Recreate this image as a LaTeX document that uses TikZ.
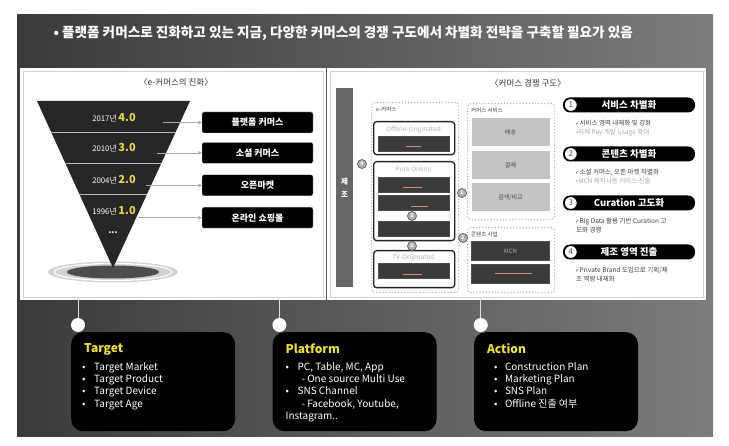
\documentclass[tikz,border=0pt]{standalone}
\usepackage{fontspec}
\setmainfont{Noto Sans CJK KR}
\newfontfamily\symfont{DejaVu Sans}
\usetikzlibrary{positioning,arrows.meta,calc}
\definecolor{bgdark}{HTML}{3A3A3A}
\definecolor{bglight}{HTML}{7C7C7C}
\definecolor{panelline}{HTML}{D0D0D0}
\definecolor{fundark}{HTML}{262626}
\definecolor{verYellow}{HTML}{E6D64A}
\definecolor{headYellow}{HTML}{F0E030}
\definecolor{barDark}{HTML}{3A3A3A}
\definecolor{barLight}{HTML}{C4C4C4}
\definecolor{redline}{HTML}{D98A78}
\newcommand{\fsz}[1]{\fontsize{#1}{#1}\selectfont}
\newcommand{\chk}{{\symfont\fsz{5.5}✓}}

\begin{document}
\begin{tikzpicture}[x=1pt, y=-1pt,
    evobox/.style={fill=black, draw=gray!50, rounded corners=2pt, text=white,
                   font=\bfseries\fsz{9}, minimum width=111pt, minimum height=21pt, inner sep=0pt},
    yrtxt/.style={text=white, font=\fsz{7.8}},
    evoarr/.style={-{Triangle[length=3.5pt,width=3.5pt]}, draw=gray!65, line width=0.6pt},
    grp/.style={draw=gray!60, dotted, line width=1.1pt, rounded corners=3pt, anchor=north west, inner sep=0pt},
    grplbl/.style={font=\fsz{5.5}, text=black!75, anchor=west, inner sep=1pt},
    chanbox/.style={draw=black!85, line width=1.3pt, rounded corners=3pt, fill=white,
                    anchor=north west, minimum width=81pt, inner sep=0pt},
    chanlbl/.style={font=\fsz{6.5}, text=gray!60},
    darkbar/.style={fill=barDark, draw=black!70, line width=0.5pt, minimum width=71pt, minimum height=15pt, inner sep=0pt},
    lightbar/.style={fill=barLight, minimum width=78pt, minimum height=28pt, inner sep=0pt,
                     text=gray!55!black, font=\fsz{6}},
    numdot/.style={circle, fill=gray!60, draw=black!60, line width=0.8pt, text=white,
                   font=\bfseries\fsz{5}, minimum size=9pt, inner sep=0pt},
    pill/.style={fill=black, rounded corners=7pt, minimum width=132pt, minimum height=15pt,
                 inner sep=0pt, text=white, font=\bfseries\fsz{9.5}},
    pillnum/.style={circle, fill=white, draw=black, line width=1pt, minimum size=13pt,
                    inner sep=0pt, font=\fsz{8}, text=gray!60!black},
    bodytxt/.style={font=\fontsize{6.5}{9}\selectfont, text=black!75, inner sep=0pt, align=left},
    card/.style={fill=black, rounded corners=12pt, minimum width=164pt, minimum height=99pt, inner sep=0pt},
    cardhead/.style={anchor=west, text=headYellow, font=\bfseries\fsz{12}, inner sep=0pt},
    cardlist/.style={anchor=north west, text=white, font=\fontsize{10}{12.3}\selectfont, align=left, inner sep=0pt},
    pin/.style={circle, fill=white, minimum size=14pt, inner sep=0pt},
    pinline/.style={draw=gray!25, line width=0.8pt}
  ]
  \useasboundingbox (0,0) rectangle (729,446);
  \fill[white] (0,0) rectangle (729,446);
  \shade[left color=bgdark, right color=bglight] (17,15) rectangle (713,437);

  % headline
  \node[anchor=west, text=white, font=\bfseries\fsz{13.6}] (title) at (50,33)
    {• 플랫폼 커머스로 진화하고 있는 지금, 다양한 커머스의 경쟁 구도에서 차별화 전략을 구축할 필요가 있음};

  % white panels
  \fill[white] (20,68) rectangle (326,300);
  \draw[panelline, line width=0.7pt] (23,71) rectangle (323,297);
  \fill[white] (327,68) rectangle (706,300);
  \draw[panelline, line width=0.7pt] (330,71) rectangle (703,297);

  % left panel: e-commerce evolution
  \node[font=\fsz{8.5}, text=black!80] (ltitle) at (176,82) {〈e-커머스의 진화〉};
  \fill[gray!35] (113,272) ellipse [x radius=65, y radius=10.5];
  \draw[white, line width=1.2pt] (113,272) ellipse [x radius=59, y radius=8.5];
  \fill[black!70] (113,272) ellipse [x radius=46, y radius=6.5];
  \coordinate (ftl) at (37,101);
  \coordinate (ftr) at (190,101);
  \coordinate (fap) at (113,268);
  \fill[fundark] (ftl) -- (ftr) -- (fap) -- cycle;
  \begin{scope}
    \clip (ftl) -- (ftr) -- (fap) -- cycle;
    \foreach \yy in {132,163,194}
      \draw[gray!55, line width=0.8pt] (30,\yy) -- (200,\yy);
  \end{scope}
  \foreach \yy/\yr/\vv [count=\i] in {118/2017/4.0, 148/2010/3.0, 180/2004/2.0, 211/1996/1.0}
    \node[yrtxt] (row\i) at (114,\yy) {\yr 년 \textcolor{verYellow}{\bfseries\fsz{11}\vv}};
  \node[yrtxt, font=\bfseries\fsz{9}] (rowdots) at (113,233) {...};

  \node[evobox] (ev1) at (257.5,122.5) {플랫폼 커머스};
  \node[evobox, below=9pt of ev1] (ev2) {소셜 커머스};
  \node[evobox, below=11pt of ev2] (ev3) {오픈마켓};
  \node[evobox, below=11pt of ev3] (ev4) {온라인 쇼핑몰};
  \foreach \xx [count=\i] in {163,157,146,138} {
    \coordinate (st\i) at (\xx,0);
    \draw[evoarr] (st\i |- ev\i.west) -- (ev\i.west);
  }

  % right panel: competition structure
  \node[font=\fsz{8.5}, text=black!80] (rtitle) at (528,83) {〈커머스 경쟁 구도〉};
  \node[fill=gray!50!black!80, minimum width=17pt, minimum height=199pt, inner sep=0pt,
        text=white, font=\bfseries\fontsize{7.5}{13}\selectfont, align=center] (make) at (344.5,187.5) {제\\조};

  % e-commerce channels
  \node[grp, minimum width=87pt, minimum height=190pt] (ecom) at (371,102) {};
  \node[grplbl] (ecomlbl) at (375,109) {e-커머스};
  \node[chanbox, minimum height=33pt] (off) at (373,121) {};
  \node[chanlbl] (offlbl) at (413.5,130) {Offline-Originated};
  \node[darkbar] (offbar) at (413.5,143.5) {};
  \node[chanbox, minimum height=79pt] (pure) at (373,161) {};
  \node[chanlbl] (purelbl) at (413.5,169) {Pure Online};
  \node[darkbar] (pbar1) at (413.5,184.5) {};
  \node[darkbar] (pbar2) at (413.5,203) {};
  \node[darkbar] (pbar3) at (413.5,228.5) {};
  \node[chanbox, minimum height=37pt] (tv) at (373,250) {};
  \node[chanlbl] (tvlbl) at (413.5,257.5) {TV-Originated};
  \node[darkbar] (tvbar) at (413.5,271) {};
  \foreach \xa/\xb/\yy in {406/421/147, 403/422/188, 411/428/207, 403/422/275}
    \draw[redline, line width=1pt] (\xa,\yy) -- (\xb,\yy);

  % commerce services
  \node[grp, minimum width=87pt, minimum height=116pt] (serv) at (467,103) {};
  \node[grplbl] (servlbl) at (470,110) {커머스 서비스};
  \node[lightbar] (ship) at (510.5,132.5) {배송};
  \node[lightbar, below=4pt of ship] (pay) {결제};
  \node[lightbar, below=4pt of pay] (search) {검색/비교};

  % content business
  \node[grp, minimum width=87pt, minimum height=65pt] (cont) at (467,227) {};
  \node[grplbl] (contlbl) at (470,234) {콘텐츠 사업};
  \node[darkbar, minimum width=78pt, minimum height=19.5pt, text=gray!70, font=\fsz{6}] (mcn) at (510.5,251) {MCN};
  \node[darkbar, minimum width=78pt, minimum height=19.5pt, below=3pt of mcn] (cbar) {};
  \draw[redline, line width=1pt] (495,274) -- (532,274);

  \node[numdot] (n4) at (362,164) {4};
  \node[numdot] (n3) at (412,216) {3};
  \node[numdot] (n2a) at (412,246) {2};
  \node[numdot] (n1) at (462,193) {1};
  \node[numdot] (n2b) at (463,238) {2};

  % strategies
  \node[pill] (p1) at (629,105) {서비스 차별화};
  \node[pill] (p2) at (629,154) {콘텐츠 차별화};
  \node[pill] (p3) at (629,203) {Curation 고도화};
  \node[pill] (p4) at (629,252) {제조 영역 진출};
  \foreach \i in {1,...,4}
    \node[pillnum, right=1pt of p\i.west] (pn\i) {\i};

  \node[bodytxt, below=7pt of p1.south west, anchor=north west, xshift=12pt] (b1)
    {\chk 서비스 영역 내재화 및 강화\\ \textcolor{gray!65}{\,•자체 Pay 개발 Usage 확대}};
  \node[bodytxt, below=7pt of p2.south west, anchor=north west, xshift=12pt] (b2)
    {\chk 소셜 커머스, 오픈 마켓 차별화\\ \textcolor{gray!65}{\,•MCN 제작사등 커머스 진출}};
  \node[bodytxt, below=7pt of p3.south west, anchor=north west, xshift=12pt] (b3)
    {\chk Big Data 활용 기반 Curation 고\\ \,도화 경쟁};
  \node[bodytxt, below=7pt of p4.south west, anchor=north west, xshift=12pt] (b4)
    {\chk Private Brand 도입으로 기획/제\\ \,조 역량 내재화};

  % bottom: target / platform / action
  \node[card, anchor=north west] (tgt) at (71,332) {};
  \node[card, right=37pt of tgt] (plf) {};
  \node[card, right=37pt of plf] (act) {};
  \foreach \c/\k in {tgt/1, plf/2, act/3} {
    \node[pin] (pin\k) at ($(\c.north west)+(7,-7)$) {};
    \coordinate (ptop\k) at ($(\c.north west)+(7,-33)$);
    \draw[pinline] (ptop\k) -- (pin\k);
  }

  \node[cardhead] (tgthead) at ($(tgt.north west)+(13,17)$) {Target};
  \node[cardlist] (tgtlist) at ($(tgt.north west)+(11,30)$)
    {\makebox[12pt][l]{•}Target Market\\
     \makebox[12pt][l]{•}Target Product\\
     \makebox[12pt][l]{•}Target Device\\
     \makebox[12pt][l]{•}Target Age};

  \node[cardhead] (plfhead) at ($(plf.north west)+(13,17)$) {Platform};
  \node[cardlist] (plflist) at ($(plf.north west)+(13,30)$)
    {\makebox[12pt][l]{•}PC, Table, MC, App\\
     \hspace{16pt}- One source Multi Use\\
     \makebox[12pt][l]{•}SNS Channel\\
     \hspace{16pt}- Facebook, Youtube,\\
     Instagram..};

  \node[cardhead] (acthead) at ($(act.north west)+(13,17)$) {Action};
  \node[cardlist] (actlist) at ($(act.north west)+(20,30)$)
    {\makebox[11pt][l]{•}Construction Plan\\
     \makebox[11pt][l]{•}Marketing Plan\\
     \makebox[11pt][l]{•}SNS Plan\\
     \makebox[11pt][l]{•}Offline 진출 여부};
\end{tikzpicture}
\end{document}
